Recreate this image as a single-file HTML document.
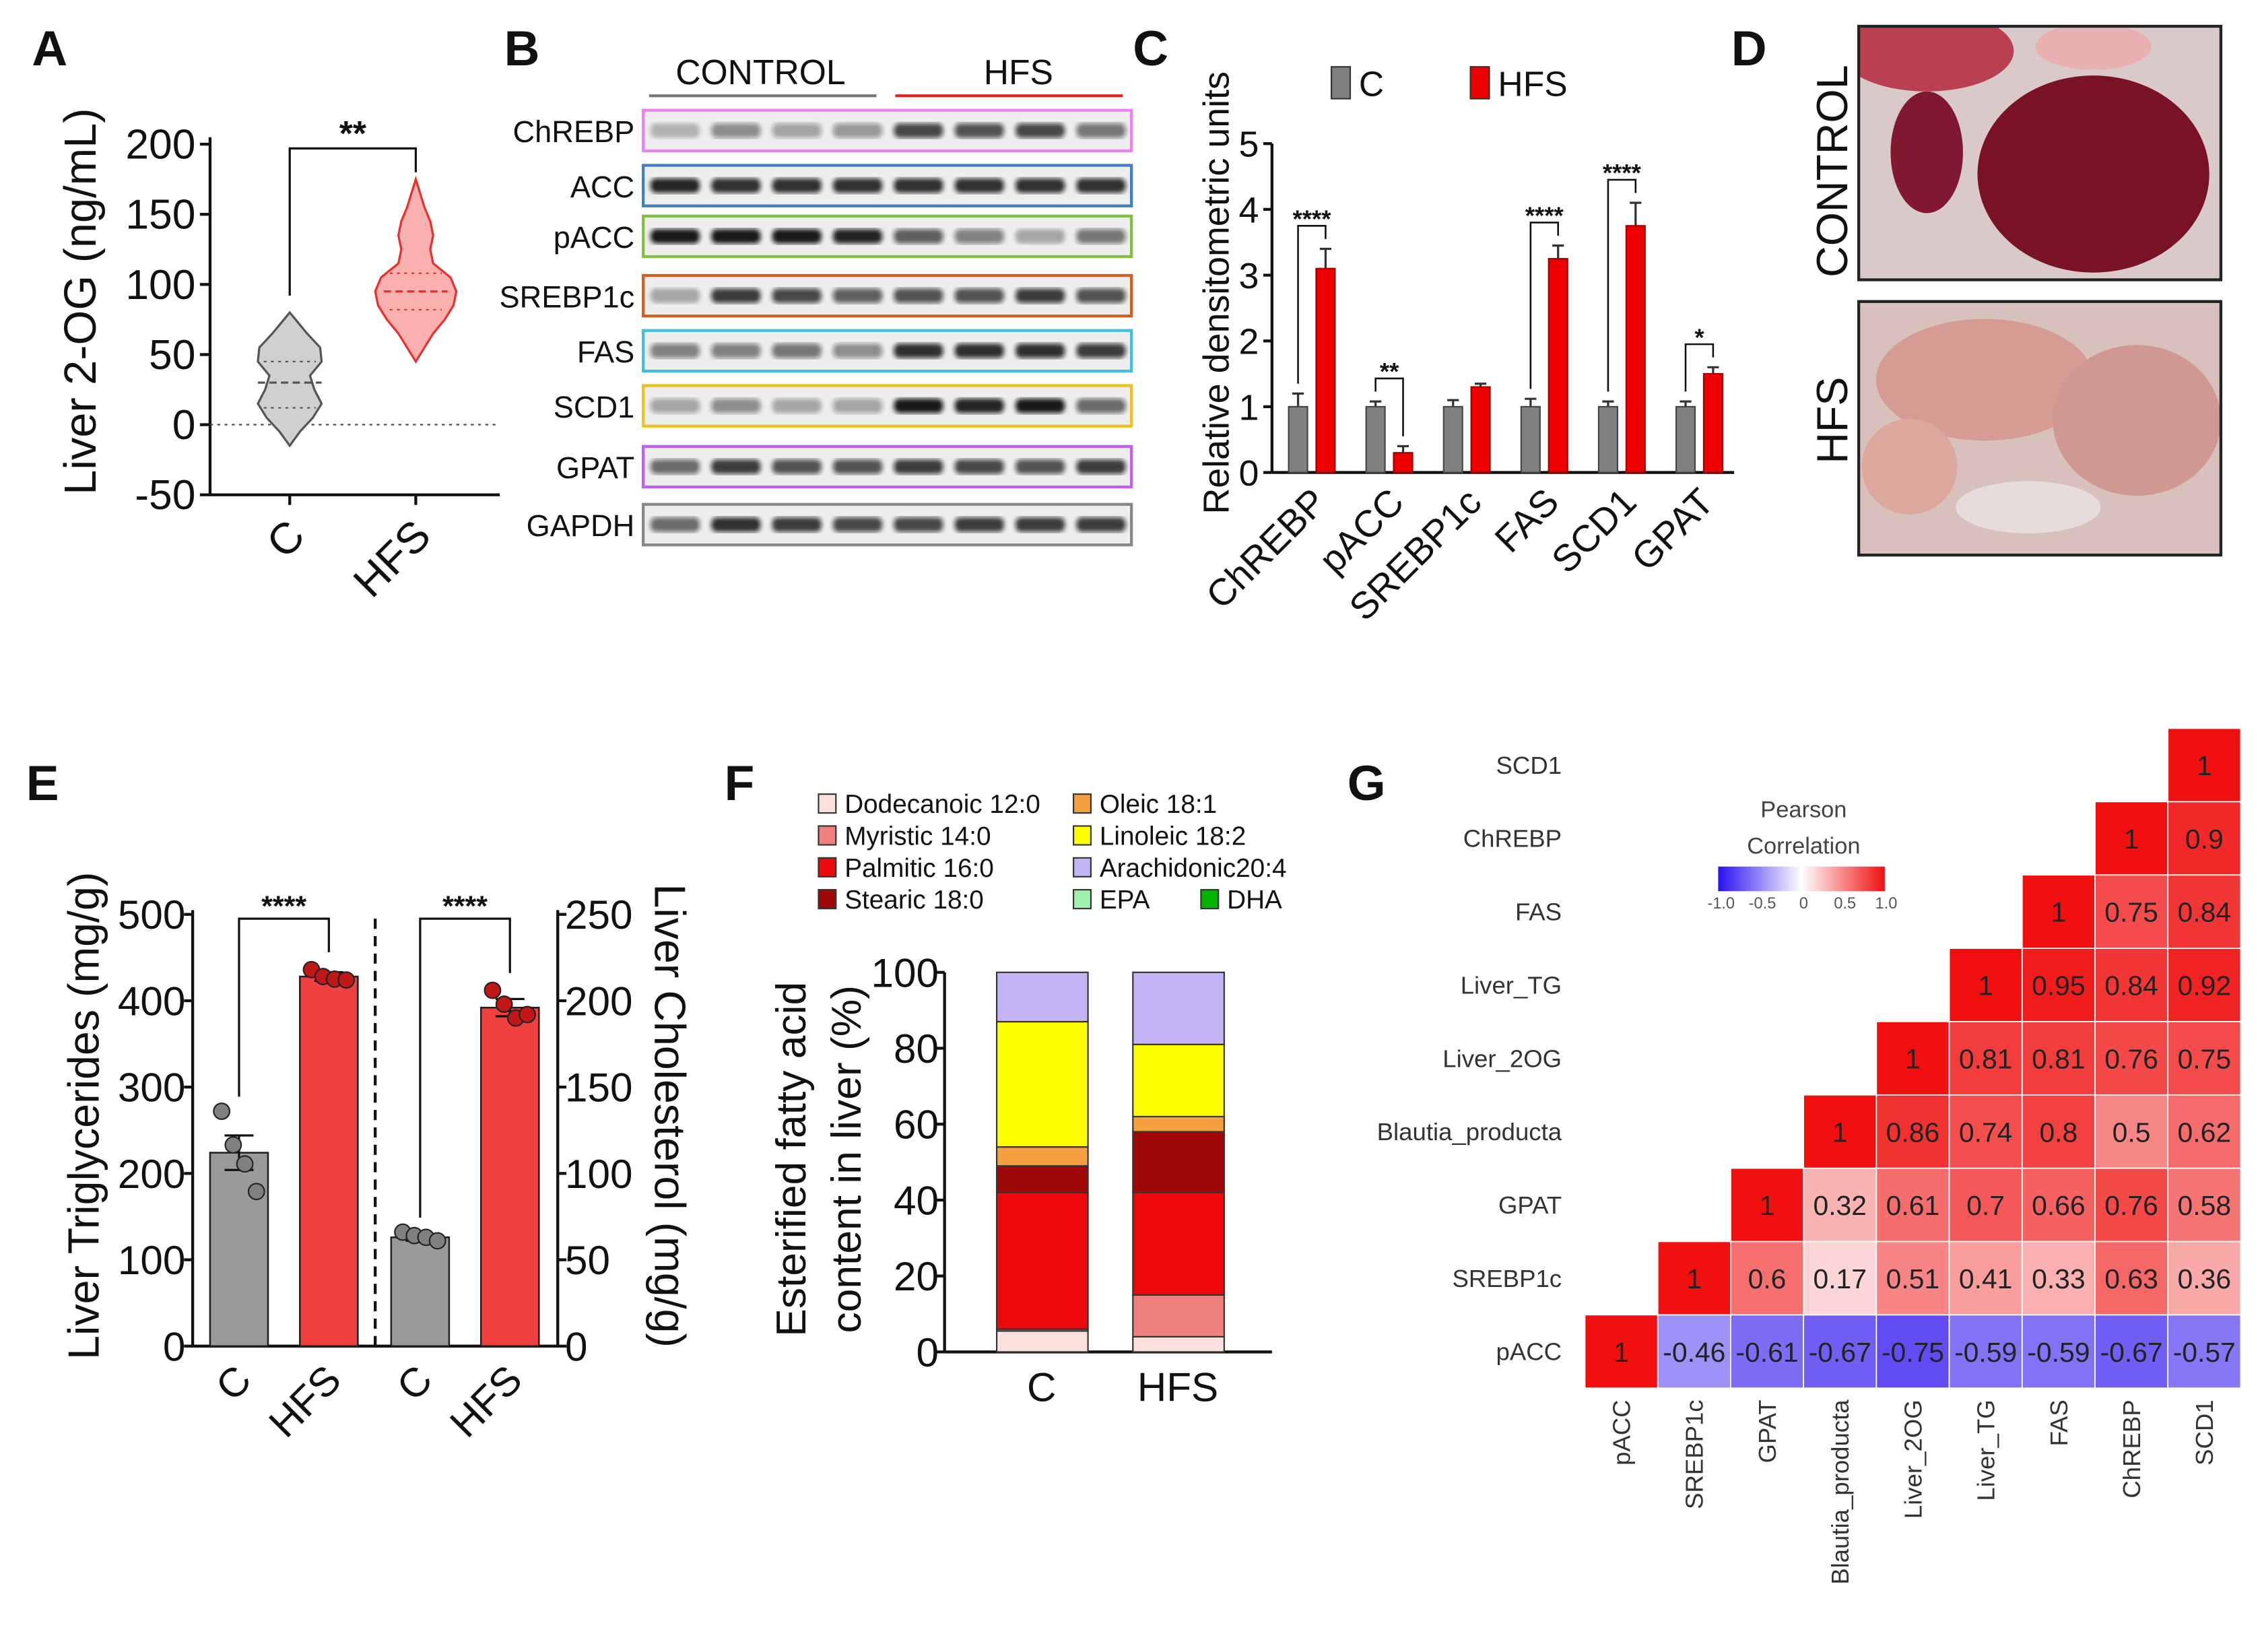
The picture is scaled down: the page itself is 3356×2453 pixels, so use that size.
<!DOCTYPE html>
<html><head><meta charset="utf-8"><style>
html,body{margin:0;padding:0;background:#fff;}
svg{display:block;font-family:"Liberation Sans",Arial,sans-serif;}
</style></head><body>
<svg id="fig" width="3356" height="2453" viewBox="0 0 1560 1140" xmlns="http://www.w3.org/2000/svg">
<defs>
<linearGradient id="cbar" x1="0" x2="1" y1="0" y2="0">
<stop offset="0" stop-color="#2a10f0"/><stop offset="0.5" stop-color="#ffffff"/><stop offset="1" stop-color="#f01010"/>
</linearGradient>
<filter id="blur1"><feGaussianBlur stdDeviation="1.6"/></filter>
<clipPath id="clip1"><rect x="1283" y="18" width="250" height="175"/></clipPath>
<clipPath id="clip2"><rect x="1283" y="208" width="250" height="175"/></clipPath>
</defs>
<g font-weight="bold" font-size="34" fill="#111">
<text x="22" y="45">A</text>
<text x="348" y="45">B</text>
<text x="782" y="45">C</text>
<text x="1195" y="45">D</text>
<text x="18" y="552">E</text>
<text x="500" y="552">F</text>
<text x="930" y="552">G</text>
</g>
<g id="pA"></g>
<g id="pB"></g>
<g id="pC"></g>
<g id="pD">
<rect x="1283" y="18" width="250" height="175" fill="#d9c9c8"/>
<g clip-path="url(#clip1)">
<ellipse cx="1330" cy="35" rx="60" ry="28" fill="#b84050"/>
<ellipse cx="1445" cy="32" rx="40" ry="16" fill="#e8b0b0"/>
<ellipse cx="1445" cy="120" rx="80" ry="68" fill="#7a1226"/>
<ellipse cx="1330" cy="105" rx="25" ry="42" fill="#801830"/>
</g>
<rect x="1283" y="18" width="250" height="175" fill="none" stroke="#222" stroke-width="2"/>
<rect x="1283" y="208" width="250" height="175" fill="#d8c0bc"/>
<g clip-path="url(#clip2)">
<ellipse cx="1370" cy="262" rx="75" ry="42" fill="#d49c92"/>
<ellipse cx="1475" cy="290" rx="58" ry="52" fill="#cf9890"/>
<ellipse cx="1318" cy="322" rx="33" ry="33" fill="#dca89e"/>
<ellipse cx="1400" cy="350" rx="50" ry="18" fill="#e6dcdc"/>
</g>
<rect x="1283" y="208" width="250" height="175" fill="none" stroke="#222" stroke-width="2"/>
<text transform="translate(1275,118) rotate(-90)" text-anchor="middle" font-size="30" fill="#111">CONTROL</text>
<text transform="translate(1275,290) rotate(-90)" text-anchor="middle" font-size="30" fill="#111">HFS</text>
</g>
<g id="pE"></g>
<g id="pF"></g>
<g id="pG"></g>
</svg>
<script>
var NS='http://www.w3.org/2000/svg';
function mk(tag,attrs,parent,txt){var e=document.createElementNS(NS,tag);for(var k in attrs)e.setAttribute(k,attrs[k]);if(txt!==undefined)e.textContent=txt;parent.appendChild(e);return e;}

var aTicks=[200,150,100,50,0,-50];
var aCats=['C','HFS'];
var violinCvals=[-15,-5,5,15,25,35,45,55,65,75,80];
var violinCdens=[0,7,16,22,17,14,22,21,12,4,0];
var violinHvals=[45,55,65,75,85,95,105,115,125,135,145,155,165,175];
var violinHdens=[0,6,12,20,26,28,24,12,10,12,10,6,3,0];
var aMedian=[30,95];
var aQuart=[[12,45],[82,108]];

var cCats=['ChREBP','pACC','SREBP1c','FAS','SCD1','GPAT'];
var cCtrl=[1,1,1,1,1,1];
var cHfs=[3.1,0.3,1.3,3.25,3.75,1.5];
var cCtrlErr=[0.2,0.08,0.1,0.12,0.08,0.08];
var cHfsErr=[0.3,0.1,0.05,0.2,0.35,0.1];
var cStars=['****','**','','****','****','*'];
var cTicks=[0,1,2,3,4,5];

var eTgMeans=[224,428];
var eCholMeans=[63,196];
var eTgPts=[[272,233,211,179],[436,428,425,424]];
var eCholPts=[[66,64,63,61],[206,198,190,192]];
var eTgErr=[20,5];
var eCholErr=[2,5];
var eTgTicks=[0,100,200,300,400,500];
var eCholTicks=[0,50,100,150,200,250];

var fNames=['Dodecanoic 12:0','Myristic 14:0','Palmitic 16:0','Stearic 18:0','Oleic 18:1','Linoleic 18:2','Arachidonic20:4','EPA','DHA'];
var fColors=['#fbe0dc','#f08080','#ee0a0a','#a00808','#f5a040','#ffff00','#c4b4f5','#a0f0b0','#00b400'];
var fC=[5.5,0.5,36,7,5,33,13,0,0];
var fHFS=[4,11,27,16,4,19,19,0,0];
var fTicks=[0,20,40,60,80,100];

var gCols=['pACC','SREBP1c','GPAT','Blautia_producta','Liver_2OG','Liver_TG','FAS','ChREBP','SCD1'];
var gRow0=[1,-0.46,-0.61,-0.67,-0.75,-0.59,-0.59,-0.67,-0.57];
var gRow1=[1,0.6,0.17,0.51,0.41,0.33,0.63,0.36];
var gRow2=[1,0.32,0.61,0.7,0.66,0.76,0.58];
var gRow3=[1,0.86,0.74,0.8,0.5,0.62];
var gRow4=[1,0.81,0.81,0.76,0.75];
var gRow5=[1,0.95,0.84,0.92];
var gRow6=[1,0.75,0.84];
var gRow7=[1,0.9];
var gRow8=[1];

(function(){
var g=document.getElementById('pA');
function yA(v){return 293-v*0.968;}
var xA=[200,287];
var ax=mk('line',{x1:145,y1:yA(205),x2:145,y2:yA(-50),stroke:'#111','stroke-width':2},g);

var bx=mk('line',{x1:145,y1:yA(-50),x2:345,y2:yA(-50),stroke:'#111','stroke-width':2},g);

var z=mk('line',{x1:145,y1:yA(0),x2:345,y2:yA(0),stroke:'#444','stroke-width':1,'stroke-dasharray':'2,3'},g);

aTicks.forEach(function(t){
var tk=mk('line',{x1:138,y1:yA(t),x2:145,y2:yA(t),stroke:'#111','stroke-width':2},g);

var tl=mk('text',{x:135,y:yA(t)+10,'text-anchor':'end','font-size':29,fill:'#111'},g,String(t));

});
aCats.forEach(function(c,i){
var tk=mk('line',{x1:xA[i],y1:yA(-50),x2:xA[i],y2:yA(-50)+7,stroke:'#111','stroke-width':2},g);

var tl=mk('text',{'text-anchor':'end','font-size':30,fill:'#111',transform:'translate('+(xA[i]+12)+','+(yA(-50)+30)+') rotate(-45)'},g,c);

});
var yt=mk('text',{transform:'translate(66,208) rotate(-90)','text-anchor':'middle','font-size':31,fill:'#111'},g,'Liver 2-OG (ng/mL)');

function violin(vals,dens,cx){
var d='';for(var i=0;i<vals.length;i++)d+=(i?'L':'M')+(cx+dens[i])+','+yA(vals[i]);
for(var j=vals.length-1;j>=0;j--)d+='L'+(cx-dens[j])+','+yA(vals[j]);return d+'Z';}
var v1=mk('path',{d:violin(violinCvals,violinCdens,xA[0]),fill:'#d0d0d0',stroke:'#555','stroke-width':1.5},g);

var v2=mk('path',{d:violin(violinHvals,violinHdens,xA[1]),fill:'#fbb0b0',stroke:'#e83030','stroke-width':1.5},g);

[0,1].forEach(function(i){
var col=i?'#e03030':'#555';
var m=mk('line',{x1:xA[i]-22,x2:xA[i]+22,y1:yA(aMedian[i]),y2:yA(aMedian[i]),stroke:col,'stroke-width':1.5,'stroke-dasharray':'5,3'},g);

aQuart[i].forEach(function(q){
var l=mk('line',{x1:xA[i]-18,x2:xA[i]+18,y1:yA(q),y2:yA(q),stroke:col,'stroke-width':1,'stroke-dasharray':'2,3'},g);

});
});
var br=mk('path',{d:'M'+xA[0]+','+yA(92)+'V'+yA(197)+'H'+xA[1]+'V'+yA(180),fill:'none',stroke:'#111','stroke-width':1.5},g);

var st=mk('text',{x:(xA[0]+xA[1])/2,y:yA(197)-2,'text-anchor':'middle','font-size':24,fill:'#111','font-weight':'bold'},g,'**');

})();

(function(){
var g=document.getElementById('pB');
var rows=['ChREBP','ACC','pACC','SREBP1c','FAS','SCD1','GPAT','GAPDH'];
var rowY=[90,128,163,204,242,280,322,362];
var borders=['#f080f0','#4080c0','#80c040','#d06020','#40c0e0','#f0c020','#c060f0','#888'];
var inten=[[0.25,0.45,0.35,0.4,0.75,0.7,0.75,0.55],[0.9,0.85,0.85,0.85,0.85,0.85,0.85,0.85],[0.95,0.95,0.95,0.9,0.65,0.5,0.3,0.55],[0.3,0.8,0.75,0.65,0.7,0.7,0.8,0.7],[0.5,0.5,0.55,0.45,0.85,0.85,0.85,0.8],[0.35,0.45,0.3,0.35,0.95,0.9,0.95,0.6],[0.6,0.8,0.7,0.7,0.8,0.75,0.7,0.8],[0.6,0.85,0.8,0.75,0.75,0.8,0.8,0.8]];
var t1=mk('text',{x:525,y:58,'text-anchor':'middle','font-size':24,fill:'#111'},g,'CONTROL');

var l1=mk('line',{x1:448,x2:605,y1:66,y2:66,stroke:'#777','stroke-width':2},g);

var t2=mk('text',{x:703,y:58,'text-anchor':'middle','font-size':24,fill:'#111'},g,'HFS');

var l2=mk('line',{x1:618,x2:775,y1:66,y2:66,stroke:'#e82020','stroke-width':2},g);

rows.forEach(function(r,i){
var y=rowY[i];
var bg=mk('rect',{x:444,y:y-14,width:337,height:28,fill:'#eeeeee',stroke:borders[i],'stroke-width':2},g);

for(var k=0;k<8;k++){
var b=mk('rect',{x:449+k*42,y:y-5,width:34,height:10,rx:4,fill:'#111','fill-opacity':inten[i][k],filter:'url(#blur1)'},g);

}
var lb=mk('text',{x:438,y:y+8,'text-anchor':'end','font-size':21,fill:'#111'},g,r);

});
})();

(function(){
var g=document.getElementById('pC');
function yC(v){return 326-v*45.4;}
var gx0=905,gstep=53.5,bw=13;
var ax=mk('line',{x1:878,y1:yC(0),x2:878,y2:yC(5),stroke:'#111','stroke-width':2},g);

var bx=mk('line',{x1:878,y1:yC(0),x2:1197,y2:yC(0),stroke:'#111','stroke-width':2},g);

cTicks.forEach(function(t){
var tk=mk('line',{x1:872,x2:878,y1:yC(t),y2:yC(t),stroke:'#111','stroke-width':2},g);

var tl=mk('text',{x:869,y:yC(t)+9,'text-anchor':'end','font-size':25,fill:'#111'},g,String(t));

});
var yt=mk('text',{transform:'translate(848,202) rotate(-90)','text-anchor':'middle','font-size':25,fill:'#111'},g,'Relative densitometric units');

var lg1=mk('rect',{x:919,y:46,width:13,height:22,fill:'#808080',stroke:'#333'},g);

var lt1=mk('text',{x:938,y:66,'font-size':24,fill:'#111'},g,'C');

var lg2=mk('rect',{x:1015,y:46,width:13,height:22,fill:'#ee0000',stroke:'#333'},g);

var lt2=mk('text',{x:1034,y:66,'font-size':24,fill:'#111'},g,'HFS');

cCats.forEach(function(c,i){
var xc=gx0+i*gstep-9, xh=gx0+i*gstep+10;
var e1=mk('path',{d:'M'+xc+','+yC(cCtrl[i])+'V'+yC(cCtrl[i]+cCtrlErr[i])+'M'+(xc-4)+','+yC(cCtrl[i]+cCtrlErr[i])+'h8',stroke:'#333','stroke-width':1.5},g);

var e2=mk('path',{d:'M'+xh+','+yC(cHfs[i])+'V'+yC(cHfs[i]+cHfsErr[i])+'M'+(xh-4)+','+yC(cHfs[i]+cHfsErr[i])+'h8',stroke:'#333','stroke-width':1.5},g);

var b1=mk('rect',{x:xc-bw/2,y:yC(cCtrl[i]),width:bw,height:yC(0)-yC(cCtrl[i]),fill:'#808080',stroke:'#444','stroke-width':1},g);

var b2=mk('rect',{x:xh-bw/2,y:yC(cHfs[i]),width:bw,height:yC(0)-yC(cHfs[i]),fill:'#ee0000',stroke:'#900','stroke-width':1},g);

if(cStars[i]){
var top=Math.max(cCtrl[i]+cCtrlErr[i],cHfs[i]+cHfsErr[i])+0.35;
var br=mk('path',{d:'M'+xc+','+yC(cCtrl[i]+cCtrlErr[i]+0.15)+'V'+yC(top)+'H'+xh+'V'+yC(cHfs[i]+cHfsErr[i]+0.15),fill:'none',stroke:'#111','stroke-width':1.2},g);

var st=mk('text',{x:(xc+xh)/2,y:yC(top)+1,'text-anchor':'middle','font-size':17,'font-weight':'bold',fill:'#111'},g,cStars[i]);

}
var tl=mk('text',{'text-anchor':'end','font-size':26,fill:'#111',transform:'translate('+(gx0+i*gstep+12)+','+(yC(0)+22)+') rotate(-45)'},g,c);

});
})();

(function(){
var g=document.getElementById('pE');
function yT(v){return 929-v*0.596;}
function yH(v){return 929-v*1.192;}
var xT=[165,227],xH=[290,352];
var a1=mk('line',{x1:133,y1:yT(0),x2:133,y2:yT(505),stroke:'#111','stroke-width':2},g);

var a2=mk('line',{x1:385,y1:yT(0),x2:385,y2:yT(505),stroke:'#111','stroke-width':2},g);

var a3=mk('line',{x1:133,y1:yT(0),x2:385,y2:yT(0),stroke:'#111','stroke-width':2},g);

var dl=mk('line',{x1:259,y1:yT(0),x2:259,y2:yT(500),stroke:'#111','stroke-width':2,'stroke-dasharray':'7,5'},g);

eTgTicks.forEach(function(t){
var tk=mk('line',{x1:127,x2:133,y1:yT(t),y2:yT(t),stroke:'#111','stroke-width':2},g);

var tl=mk('text',{x:128,y:yT(t)+10,'text-anchor':'end','font-size':28,fill:'#111'},g,String(t));

});
eCholTicks.forEach(function(t){
var tk=mk('line',{x1:385,x2:391,y1:yH(t),y2:yH(t),stroke:'#111','stroke-width':2},g);

var tl=mk('text',{x:390,y:yH(t)+10,'font-size':28,fill:'#111'},g,String(t));

});
var t1=mk('text',{transform:'translate(68,770) rotate(-90)','text-anchor':'middle','font-size':30,fill:'#111'},g,'Liver Triglycerides (mg/g)');

var t2=mk('text',{transform:'translate(452,770) rotate(90)','text-anchor':'middle','font-size':30,fill:'#111'},g,'Liver Cholesterol (mg/g)');

function group(xs,means,pts,errs,yf,nm){
for(var i=0;i<2;i++){
var b=mk('rect',{x:xs[i]-20,y:yf(means[i]),width:40,height:yf(0)-yf(means[i]),fill:i?'#f04040':'#9a9a9a',stroke:'#222','stroke-width':1.2},g);

var e=mk('path',{d:'M'+xs[i]+','+yf(means[i]-errs[i])+'V'+yf(means[i]+errs[i])+'M'+(xs[i]-10)+','+yf(means[i]+errs[i])+'h20M'+(xs[i]-10)+','+yf(means[i]-errs[i])+'h20',stroke:'#111','stroke-width':1.5},g);

pts[i].forEach(function(p,k){
var c=mk('circle',{cx:xs[i]+(k-1.5)*8,cy:yf(p),r:5.5,fill:i?'#c01818':'#808080',stroke:'#222','stroke-width':1},g);

});
var tl=mk('text',{'text-anchor':'end','font-size':28,fill:'#111',transform:'translate('+(xs[i]+10)+','+(yf(0)+25)+') rotate(-45)'},g,i?'HFS':'C');

}
var top=Math.max.apply(null,pts[1]);
var br=mk('path',{d:'M'+xs[0]+','+(yf(Math.max.apply(null,pts[0]))-10)+'V'+(yT(495))+'H'+xs[1]+'V'+(yf(top)-12),fill:'none',stroke:'#111','stroke-width':1.5},g);

var st=mk('text',{x:(xs[0]+xs[1])/2,y:yT(495)-2,'text-anchor':'middle','font-size':20,'font-weight':'bold',fill:'#111'},g,'****');

}
group(xT,eTgMeans,eTgPts,eTgErr,yT,'tg');
group(xH,eCholMeans,eCholPts,eCholErr,yH,'chol');
})();

(function(){
var g=document.getElementById('pF');
function yF(v){return 933-v*2.62;}
var ax=mk('line',{x1:652,y1:yF(0),x2:652,y2:yF(100),stroke:'#111','stroke-width':2},g);

var bx=mk('line',{x1:652,y1:yF(0),x2:878,y2:yF(0),stroke:'#111','stroke-width':2},g);

fTicks.forEach(function(t){
var tk=mk('line',{x1:646,x2:652,y1:yF(t),y2:yF(t),stroke:'#111','stroke-width':2},g);

var tl=mk('text',{x:648,y:yF(t)+10,'text-anchor':'end','font-size':28,fill:'#111'},g,String(t));

});
var t1=mk('text',{transform:'translate(556,800) rotate(-90)','text-anchor':'middle','font-size':29,fill:'#111'},g,'Esterified fatty acid');

var t2=mk('text',{transform:'translate(594,800) rotate(-90)','text-anchor':'middle','font-size':29,fill:'#111'},g,'content in liver (%)');

var bars=[fC,fHFS],bx0=[688,782],labs=['C','HFS'];
bars.forEach(function(arr,b){
var acc=0;
arr.forEach(function(v,k){
if(v<=0)return;
var r=mk('rect',{x:bx0[b],y:yF(acc+v),width:63,height:yF(acc)-yF(acc+v),fill:fColors[k],stroke:'#333','stroke-width':1},g);

acc+=v;
});
var tl=mk('text',{x:bx0[b]+31,y:967,'text-anchor':'middle','font-size':28,fill:'#111'},g,labs[b]);

});
fNames.forEach(function(n,k){
var x,y;
if(k<4){x=565;y=548+k*22;}
else if(k<7){x=741;y=548+(k-4)*22;}
else{x=k===7?741:829;y=614;}
var sw=mk('rect',{x:x,y:y,width:12,height:13,fill:fColors[k],stroke:'#333','stroke-width':1},g);

var tx=mk('text',{x:x+18,y:y+13,'font-size':18,fill:'#111'},g,n);

});
})();

(function(){
var g=document.getElementById('pG');
var rowsData=[gRow0,gRow1,gRow2,gRow3,gRow4,gRow5,gRow6,gRow7,gRow8];
var x0=1094,cw=50.3,yb=958,ch=50.6;
function col(v){
var t=Math.abs(v),r,gg,b;
if(v>=0){r=255-15*t;gg=255-239*t;b=255-239*t;}
else{r=255-213*t;gg=255-239*t;b=255-15*t;}
return 'rgb('+Math.round(r)+','+Math.round(gg)+','+Math.round(b)+')';}
rowsData.forEach(function(arr,ri){
arr.forEach(function(v,k){
var ci=ri+k;
var x=x0+ci*cw,y=yb-(ri+1)*ch;
var r=mk('rect',{x:x,y:y,width:cw,height:ch,fill:col(v),stroke:'#fff','stroke-width':0.8},g);

var t=mk('text',{x:x+cw/2,y:y+ch/2+7,'text-anchor':'middle','font-size':19,fill:'#222'},g,String(v));

});
var rl=mk('text',{x:1078,y:yb-(ri+0.5)*ch+6,'text-anchor':'end','font-size':17,fill:'#333'},g,gCols[ri]);

var cl=mk('text',{'text-anchor':'end','font-size':17,fill:'#333',transform:'translate('+(x0+(ri+0.5)*cw+6)+',966) rotate(-90)'},g,gCols[ri]);

});
var l1=mk('text',{x:1245,y:564,'text-anchor':'middle','font-size':16,fill:'#444'},g,'Pearson');

var l2=mk('text',{x:1245,y:589,'text-anchor':'middle','font-size':16,fill:'#444'},g,'Correlation');

var cb=mk('rect',{x:1186,y:598,width:115,height:17,fill:'url(#cbar)'},g);

['-1.0','-0.5','0','0.5','1.0'].forEach(function(s,i){
var t=mk('text',{x:1188+i*28.5,y:627,'text-anchor':'middle','font-size':11,fill:'#555'},g,s);

});
})();
</script>
</body></html>
